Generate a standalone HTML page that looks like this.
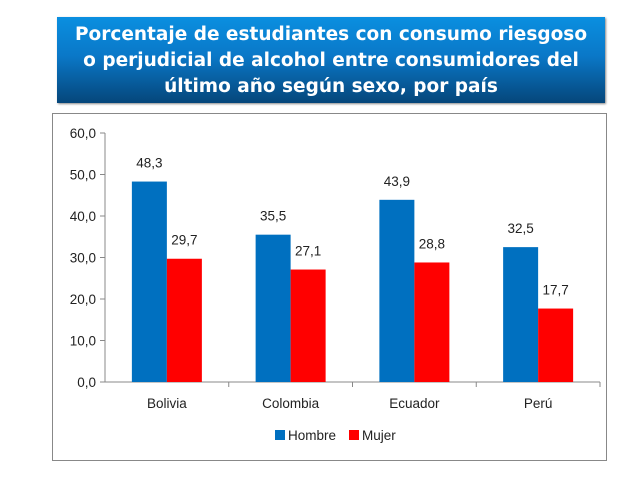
<!DOCTYPE html>
<html><head><meta charset="utf-8"><style>
body{margin:0;width:638px;height:479px;background:#fff;overflow:hidden;font-family:"Liberation Sans",sans-serif}
#title{position:absolute;left:57px;top:17px;width:548px;height:86px;background:linear-gradient(#0a8fe0,#0a78c8 45%,#05467a);color:#fff;font-family:"DejaVu Sans",sans-serif;font-weight:bold;font-size:18.5px;line-height:26px;text-align:center;box-sizing:border-box;padding-top:5px;box-shadow:1px 1px 2px #888;white-space:nowrap}
#chartbox{position:absolute;left:52px;top:113px;width:555px;height:348px;border:1px solid #888;box-sizing:border-box}
svg{position:absolute;left:0;top:0}
</style></head><body>
<div id="title">Porcentaje de estudiantes con consumo riesgoso<br>o perjudicial de alcohol entre consumidores del<br>último año según sexo, por país</div>
<div id="chartbox"></div>
<svg id="c" width="638" height="479"></svg>
<script>
const categories=["Bolivia","Colombia","Ecuador","Perú"];
const hombre=[48.3,35.5,43.9,32.5];
const mujer=[29.7,27.1,28.8,17.7];
const yTicks=[0,10,20,30,40,50,60];
const svg=document.getElementById('c');
const NS='http://www.w3.org/2000/svg';
const x0=105,x1=600,yb=382,yt=133,ymax=60;
const y=v=>yb-(v/ymax)*(yb-yt);
const cw=(x1-x0)/categories.length;
function mk(t,a){const e=document.createElementNS(NS,t);for(const k in a)e.setAttribute(k,a[k]);svg.appendChild(e);return e;}
const fmt=v=>v.toFixed(1).replace('.',',');
let ax=mk('line',{x1:x0,y1:yt,x2:x0,y2:yb,stroke:'#888'});


let bx=mk('line',{x1:x0,y1:yb,x2:x1,y2:yb,stroke:'#888'});


yTicks.forEach(t=>{
 mk('line',{x1:x0-5,y1:y(t),x2:x0,y2:y(t),stroke:'#888'});
 const tx=mk('text',{x:x0-9,y:y(t)+5,'text-anchor':'end','font-size':13.5,fill:'#222'});
 tx.textContent=fmt(t);
 
 
});
const bw=35;
categories.forEach((c,i)=>{
 const cx=x0+cw*(i+0.5);
 mk('line',{x1:x0+cw*(i+1),y1:yb,x2:x0+cw*(i+1),y2:yb+5,stroke:'#888'});
 const l=mk('text',{x:cx,y:yb+26,'text-anchor':'middle','font-size':13.5,fill:'#222'});
 l.textContent=c;
 
 
 [[hombre,'#0070c0',-bw,'bar-hombre'],[mujer,'#ff0000',0,'bar-mujer']].forEach(([arr,col,off,nm])=>{
  const v=arr[i];
  const r=mk('rect',{x:cx+off,y:y(v),width:bw,height:yb-y(v),fill:col});
  
  
  const t=mk('text',{x:cx+off+bw/2,y:y(v)-14,'text-anchor':'middle','font-size':13.5,fill:'#222'});
  t.textContent=fmt(v);
  
  
 });
});
[['#0070c0','Hombre',275],['#ff0000','Mujer',349]].forEach(([col,txt,lx])=>{
 const s=mk('rect',{x:lx,y:430,width:10,height:10,fill:col});
 
 
 const t=mk('text',{x:lx+13,y:440,'font-size':13.5,fill:'#222'});
 t.textContent=txt;
 
 
});
</script>
</body></html>
